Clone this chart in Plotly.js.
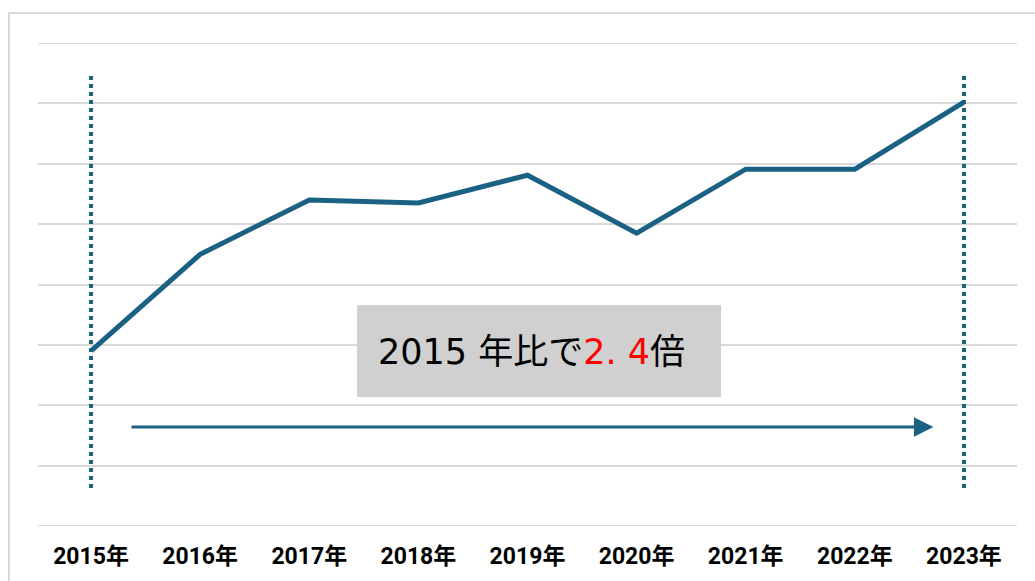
<!DOCTYPE html>
<html>
<head>
<meta charset="utf-8">
<script src="https://cdn.plot.ly/plotly-3.0.1.min.js"></script>
<style>html,body{margin:0;padding:0;background:#fff;}#chart{width:1035px;height:581px;}</style>
</head>
<body>
<div id="chart"></div>
<script>
const years = ["2015年","2016年","2017年","2018年","2019年","2020年","2021年","2022年","2023年"];
const values = [2.90, 4.50, 5.40, 5.35, 5.81, 4.85, 5.91, 5.91, 7.02];
const lineColor = "#1b6184";

const trace = {
  x: years, y: values, type: "scatter", mode: "lines",
  line: {color: lineColor, width: 5}, hoverinfo: "skip"
};

const layout = {
  width: 1035, height: 581,
  margin: {l: 38, r: 18, t: 43, b: 55},
  paper_bgcolor: "#fff", plot_bgcolor: "#fff",
  showlegend: false,
  xaxis: {
    type: "category", range: [-0.486, 8.486], showgrid: false, zeroline: false,
    showline: false, ticks: "", fixedrange: true, ticklabelstandoff: 14,
    tickfont: {family: "Roboto, Noto Sans CJK JP", size: 23, color: "#000", weight: "bold", stretch: "condensed"}
  },
  yaxis: {
    range: [0, 8], dtick: 1, showgrid: true, gridcolor: "#d9d9d9", gridwidth: 2,
    zeroline: false, showticklabels: false, ticks: "", fixedrange: true
  },
  shapes: [
    {type: "rect", xref: "paper", yref: "paper", x0: -0.0296, x1: 1.1, y0: -0.2, y1: 1.062,
     line: {color: "#d9d9d9", width: 2}, fillcolor: "rgba(0,0,0,0)", layer: "below"},
    {type: "line", xref: "paper", yref: "y", x0: 0, x1: 1, y0: 0, y1: 0,
     line: {color: "#d9d9d9", width: 2}, layer: "below"},
    {type: "line", xref: "paper", yref: "y", x0: 0, x1: 1, y0: 8, y1: 8,
     line: {color: "#d9d9d9", width: 2}, layer: "below"},
    {type: "line", xref: "x", yref: "y", x0: years[0], x1: years[0], y0: 0.63, y1: 7.47,
     line: {color: lineColor, width: 4, dash: "dot"}},
    {type: "line", xref: "x", yref: "y", x0: years[8], x1: years[8], y0: 0.63, y1: 7.47,
     line: {color: lineColor, width: 4, dash: "dot"}},
    {type: "rect", xref: "x", yref: "y", x0: 2.438, x1: 5.774, y0: 2.137, y1: 3.66,
     line: {width: 0}, fillcolor: "#d0d0d0"}
  ],
  annotations: [
    {xref: "x", yref: "y", x: 4.033, y: 2.88, showarrow: false,
     text: "2015 年比で<span style='color:#ff0000'>2. 4</span>倍",
     font: {family: "DejaVu Sans, Noto Sans CJK JP", size: 35, color: "#000"}},
    {xref: "x", yref: "y", axref: "x", ayref: "y", x: 7.72, y: 1.64, ax: 0.357, ay: 1.64,
     showarrow: true, arrowhead: 2, arrowsize: 1.3, arrowwidth: 3, arrowcolor: lineColor, text: ""}
  ]
};

Plotly.newPlot("chart", [trace], layout, {displayModeBar: false, staticPlot: true});
</script>
</body>
</html>
